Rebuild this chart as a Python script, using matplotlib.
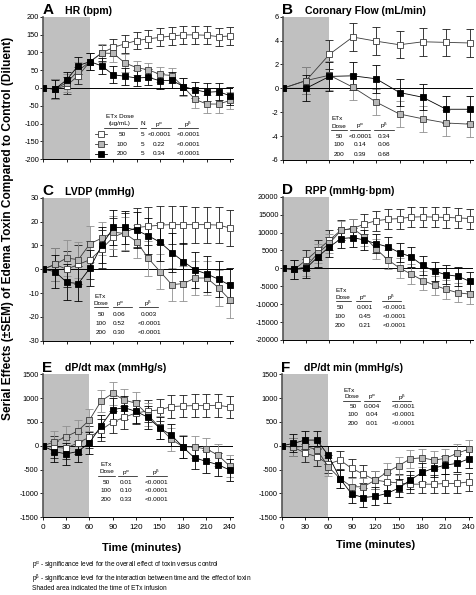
import matplotlib.pyplot as plt
import matplotlib.lines as mlines

plt.rcParams['font.family'] = ['Liberation Sans', 'DejaVu Sans']
plt.rcParams['mathtext.fontset'] = 'custom'
plt.rcParams['mathtext.rm'] = 'Liberation Sans'
plt.rcParams['mathtext.it'] = 'Liberation Sans'
plt.rcParams['axes.unicode_minus'] = False

W, H = 476, 595

# ---- data ----
doses = ['50', '100', '200']
time15 = [0, 15, 30, 45, 60, 75, 90, 105, 120, 135, 150, 165, 180, 195, 210, 225, 240]
time30 = [0, 30, 60, 90, 120, 150, 180, 210, 240]

# A: HR (bpm)
hr_50 = [0, -3, 7, 35, 74, 98, 114, 124, 133, 138, 142, 146, 149, 149, 148, 144, 146]
hr_100 = [0, -3, 15, 49, 74, 98, 97, 70, 57, 51, 38, 35, 3, -32, -45, -45, -35]
hr_200 = [0, -3, 23, 63, 74, 62, 37, 33, 28, 30, 20, 22, 4, -5, -12, -10, -22]
hr_sem_50 = [0, 28, 25, 25, 24, 22, 24, 25, 25, 25, 25, 25, 25, 25, 25, 25, 25]
hr_sem_100 = [0, 28, 25, 25, 24, 25, 25, 25, 20, 20, 22, 22, 25, 25, 25, 25, 25]
hr_sem_200 = [0, 25, 22, 24, 24, 22, 24, 24, 23, 22, 23, 22, 24, 22, 25, 25, 25]

# B: Coronary flow (mL/min), every 30 min
cf_50 = [0, 0.65, 2.85, 4.3, 3.95, 3.65, 3.9, 3.85, 3.8]
cf_100 = [0, 0.65, 1.1, 0.1, -1.15, -2.15, -2.55, -2.9, -3.0]
cf_200 = [0, 0.0, 1.0, 1.05, 0.8, -0.35, -0.75, -1.75, -1.75]
cf_sem_50 = [0, 1.1, 1.2, 1.15, 1.15, 1.15, 1.15, 1.15, 1.15]
cf_sem_100 = [0, 1.1, 1.2, 1.1, 1.1, 1.1, 1.1, 1.1, 1.1]
cf_sem_200 = [0, 1.1, 1.2, 1.15, 1.15, 1.15, 1.1, 1.15, 1.15]

# C: LVDP (mmHg)
lv_50 = [0, 2, 0, 2, 4, 8.5, 13.5, 15.5, 17.5, 18, 18.5, 18.7, 18.7, 18.7, 18.7, 18.5, 17.3]
lv_100 = [0, 2, 4.7, 4, 10.7, 13, 15.5, 15, 11.5, 4.5, -1, -6.5, -6, -3.7, -3.7, -7.8, -13]
lv_200 = [0, -1, -5.5, -6, 0.5, 10, 17.5, 17.5, 16.3, 14, 11.3, 7, 3.2, -0.3, -2, -4.2, -6.8]
lv_sem_50 = [0, 7, 7.5, 8, 8, 8, 8, 8, 8, 8, 8, 8, 8, 7.5, 7.5, 7.5, 7.7]
lv_sem_100 = [0, 7, 7.5, 7.5, 7.5, 7, 7, 7, 7, 7.5, 7.5, 7, 7.5, 7, 7, 7.5, 7.5]
lv_sem_200 = [0, 7, 7.5, 7.5, 7.5, 7.5, 7.5, 7, 7.5, 7.5, 8, 8, 8, 7.5, 7.5, 7.5, 7.5]

# D: RPP (mmHg*bpm)
rpp_50 = [0, -300, 2300, 5100, 7900, 10700, 11100, 12400, 13300, 13700, 13900, 14300, 14400, 14300, 14200, 14100, 13900]
rpp_100 = [0, -300, 500, 4200, 7000, 10600, 11100, 8800, 5400, 2400, 100, -1600, -3400, -4700, -5900, -6800, -7200]
rpp_200 = [0, -300, 0, 3200, 6000, 8300, 8600, 7900, 6900, 6000, 4400, 3200, 800, -800, -1800, -2200, -3600]
rpp_sem_50 = [0, 2700, 2800, 2800, 2700, 2700, 2700, 2800, 2800, 2800, 2800, 2800, 2800, 2800, 2800, 2800, 2800]
rpp_sem_100 = [0, 2700, 2700, 2700, 2700, 2700, 2700, 2700, 2700, 2700, 2700, 2700, 2700, 2700, 2700, 2700, 2700]
rpp_sem_200 = [0, 2700, 2600, 2700, 2700, 2700, 2700, 2700, 2700, 2700, 2700, 2700, 2700, 2700, 2700, 2700, 2700]

# E: dP/dt max (mmHg/s)
dpmax_50 = [0, -30, -50, 60, 180, 335, 500, 600, 690, 730, 752, 822, 836, 843, 843, 850, 815]
dpmax_100 = [0, 80, 190, 310, 540, 940, 1100, 960, 890, 650, 390, 137, -20, -24, -66, -192, -423]
dpmax_200 = [0, -120, -170, -120, 60, 420, 760, 800, 720, 600, 374, 227, -24, -255, -325, -395, -507]
dpmax_sem_50 = [0, 230, 230, 230, 230, 230, 240, 240, 240, 240, 240, 240, 240, 240, 240, 240, 240]
dpmax_sem_100 = [0, 230, 230, 230, 230, 230, 240, 240, 240, 240, 240, 240, 240, 240, 240, 240, 240]
dpmax_sem_200 = [0, 230, 230, 230, 230, 230, 240, 240, 240, 240, 240, 240, 240, 240, 240, 240, 240]

# F: dP/dt min (mmHg/s)
dpmin_50 = [0, -30, -150, -230, -380, -300, -475, -595, -720, -755, -780, -805, -805, -805, -790, -790, -755]
dpmin_100 = [0, -30, -10, -80, -440, -690, -860, -860, -720, -555, -420, -275, -250, -300, -265, -160, -70]
dpmin_200 = [0, 50, 120, 120, -200, -690, -1015, -1085, -1060, -1000, -890, -720, -560, -470, -405, -370, -275]
dpmin_sem_50 = [0, 190, 190, 190, 190, 190, 190, 190, 190, 190, 190, 190, 190, 190, 190, 190, 190]
dpmin_sem_100 = [0, 190, 190, 190, 190, 190, 190, 190, 190, 190, 190, 190, 190, 190, 190, 190, 190]
dpmin_sem_200 = [0, 190, 190, 190, 190, 190, 190, 190, 190, 190, 190, 190, 190, 190, 190, 190, 190]

# p-value tables
hr_n = ['5', '5', '5']
hr_pa = ['<0.0001', '0.22', '0.34']
hr_pb = ['<0.0001', '<0.0001', '<0.0001']
cf_pa = ['<0.0001', '0.14', '0.39']
cf_pb = ['0.34', '0.06', '0.68']
lv_pa = ['0.06', '0.52', '0.30']
lv_pb = ['0.003', '<0.0001', '<0.0001']
rpp_pa = ['0.001', '0.45', '0.21']
rpp_pb = ['<0.0001', '<0.0001', '<0.0001']
dpmax_pa = ['0.01', '0.10', '0.33']
dpmax_pb = ['<0.0001', '<0.0001', '<0.0001']
dpmin_pa = ['0.004', '0.04', '0.01']
dpmin_pb = ['<0.0001', '<0.0001', '<0.0001']

PA = r'p$^{\alpha}$'
PB = r'p$^{\beta}$'

styles = {
    '50': dict(mfc='white', mec='#3a3a3a', color='#3a3a3a', ecolor='#1a1a1a'),
    '100': dict(mfc='#b8b8b8', mec='#3a3a3a', color='#3a3a3a', ecolor='#909090'),
    '200': dict(mfc='black', mec='black', color='black', ecolor='black'),
}

fig = plt.figure(figsize=(W / 100, H / 100), dpi=100)


def ftext(x, y, s, size=4.6, ha='center', va='center', **kw):
    fig.text(x / W, 1 - y / H, s, fontsize=size, ha=ha, va=va, **kw)


def fline(x0, x1, y, lw=0.5, color='black'):
    fig.add_artist(mlines.Line2D([x0 / W, x1 / W], [1 - y / H, 1 - y / H],
                                 lw=lw, color=color, transform=fig.transFigure))


def panel(left, top, bottom, t, series, sems, ylim, ystep, letter, title, xlabels):
    ax = fig.add_axes([left / W, 1 - bottom / H, 190 / W, (bottom - top) / H])
    ax.axvspan(0, 60, color='#c0c0c0', lw=0, zorder=0)
    ax.axhline(0, color='black', lw=0.7, zorder=1)
    for d, y, e in zip(doses, series, sems):
        st = styles[d]
        ax.errorbar(t, y, yerr=e, fmt='s-', ms=3.7, mew=0.6, lw=0.6,
                    mfc=st['mfc'], mec=st['mec'], color=st['color'],
                    ecolor=st['ecolor'], elinewidth=0.6, capsize=2.6,
                    capthick=0.6, zorder=3)
    ax.set_xlim(0, 244)
    ax.set_ylim(*ylim)
    ticks = list(range(int(ylim[0]), int(ylim[1]) + 1, ystep))
    ax.set_yticks(ticks)
    ax.set_xticks(time30)
    if not xlabels:
        ax.set_xticklabels([])
    ax.spines['top'].set_visible(False)
    ax.spines['right'].set_visible(False)
    ax.spines['left'].set_color('#555555')
    ax.spines['left'].set_linewidth(1.2)
    ax.spines['bottom'].set_linewidth(0.7)
    ax.tick_params(axis='y', length=2, width=0.6, pad=1, labelsize=5.3)
    ax.tick_params(axis='x', length=2.2, width=0.6, pad=2.5, labelsize=5.9)
    ftext(left - 0.5, top - 2.5, letter, size=11, ha='left', va='baseline', weight='bold')
    ftext(left + 22, top - 3, title, size=7.6, ha='left', va='baseline', weight='bold')
    return ax


def table(heads, underlines, rows_y, cols, cells):
    for s, x, y, va in heads:
        ftext(x, y, s, va=va)
    for x0, x1, y in underlines:
        fline(x0, x1, y)
    for ry, row in zip(rows_y, cells):
        for cx, s in zip(cols, row):
            ftext(cx, ry, s)


# A
axA = panel(43.3, 16.7, 159.3, time15, [hr_50, hr_100, hr_200],
            [hr_sem_50, hr_sem_100, hr_sem_200], (-200, 200), 50, 'A', 'HR (bpm)', False)
table([('ETx Dose', 120, 116, 'center'), ('(ug/mL)', 120, 123.5, 'center'),
       ('N', 143, 123.5, 'center'), (PA, 159, 127, 'baseline'), (PB, 188, 127, 'baseline')],
      [(104, 137, 128), (140, 146, 128), (151, 171, 128), (178, 198, 128)],
      [134.3, 144.3, 153.7], [122, 143, 159, 188],
      list(zip(doses, hr_n, hr_pa, hr_pb)))
for d, ry in zip(doses, [134.3, 144.3, 153.7]):
    st = styles[d]
    fig.add_artist(mlines.Line2D([95 / W, 107 / W], [1 - ry / H] * 2, lw=0.6,
                                 color=st['color'], transform=fig.transFigure))
    fig.add_artist(mlines.Line2D([101 / W], [1 - ry / H], marker='s', ms=3.7, mew=0.6,
                                 mfc=st['mfc'], mec=st['mec'], transform=fig.transFigure))

# B
axB = panel(282.7, 16.7, 160, time30, [cf_50, cf_100, cf_200],
            [cf_sem_50, cf_sem_100, cf_sem_200], (-6, 6), 2, 'B', 'Coronary Flow (mL/min)', False)
table([('ETx', 337, 118, 'center'), ('Dose', 339, 126.5, 'center'),
       (PA, 360, 128, 'baseline'), (PB, 384, 128, 'baseline')],
      [(331, 347, 130), (350, 370, 130), (374, 394, 130)],
      [136, 145, 154], [339, 360, 384],
      list(zip(doses, cf_pa, cf_pb)))

# C
axC = panel(43.3, 197.7, 340.7, time15, [lv_50, lv_100, lv_200],
            [lv_sem_50, lv_sem_100, lv_sem_200], (-30, 30), 10, 'C', 'LVDP (mmHg)', False)
table([('ETx', 100, 296, 'center'), ('Dose', 101, 303.5, 'center'),
       (PA, 120, 306, 'baseline'), (PB, 148, 306, 'baseline')],
      [(94, 108, 307), (113, 132, 307), (139, 158, 307)],
      [314, 323.3, 332.7], [101, 119, 149],
      list(zip(doses, lv_pa, lv_pb)))

# D
axD = panel(282.7, 196.7, 340, time15, [rpp_50, rpp_100, rpp_200],
            [rpp_sem_50, rpp_sem_100, rpp_sem_200], (-20000, 20000), 5000, 'D',
            'RPP (mmHg\u00b7bpm)', False)
table([('ETx', 341, 290, 'center'), ('Dose', 343, 297.5, 'center'),
       (PA, 363, 300, 'baseline'), (PB, 391, 300, 'baseline')],
      [(336, 351, 301), (356, 371, 301), (382, 401, 301)],
      [307.3, 316.7, 325.3], [340, 365, 394],
      list(zip(doses, rpp_pa, rpp_pb)))

# E
axE = panel(42.7, 374.3, 517.3, time15, [dpmax_50, dpmax_100, dpmax_200],
            [dpmax_sem_50, dpmax_sem_100, dpmax_sem_200], (-1500, 1500), 500, 'E',
            'dP/dt max (mmHg/s)', True)
table([('ETx', 106, 464, 'center'), ('Dose', 107, 471.5, 'center'),
       (PA, 126, 474.5, 'baseline'), (PB, 156, 474.5, 'baseline')],
      [(98, 115, 475.5), (118, 137, 475.5), (146, 167, 475.5)],
      [482.7, 490.7, 499.3], [106, 126, 156],
      list(zip(doses, dpmax_pa, dpmax_pb)))

# F
axF = panel(281.7, 374.3, 517.3, time15, [dpmin_50, dpmin_100, dpmin_200],
            [dpmin_sem_50, dpmin_sem_100, dpmin_sem_200], (-1500, 1500), 500, 'F',
            'dP/dt min (mmHg/s)', True)
table([('ETx', 349, 390, 'center'), ('Dose', 352, 397, 'center'),
       (PA, 372, 399.5, 'baseline'), (PB, 402, 399.5, 'baseline')],
      [(343, 360, 400.5), (364, 380, 400.5), (392, 411, 400.5)],
      [406.7, 414.7, 423.3], [353, 372, 403],
      list(zip(doses, dpmin_pa, dpmin_pb)))

# shared labels
ftext(8, 228, 'Serial Effects (\u00b1SEM) of Edema Toxin Compared to Control (Diluent)',
      size=8.6, rotation=90, weight='bold')
ftext(142, 548, 'Time (minutes)', size=8, weight='bold')
ftext(376, 545, 'Time (minutes)', size=8, weight='bold')

ftext(32, 566, PA + ' - significance level for the overall effect of toxin versus control',
      size=4.7, ha='left')
ftext(32, 579, PB + ' - significance level for the interaction between time and the effect of toxin',
      size=4.7, ha='left')
ftext(32, 589, 'Shaded area indicated the time of ETx infusion', size=4.7, ha='left')

plt.savefig('out.png', dpi=100)
